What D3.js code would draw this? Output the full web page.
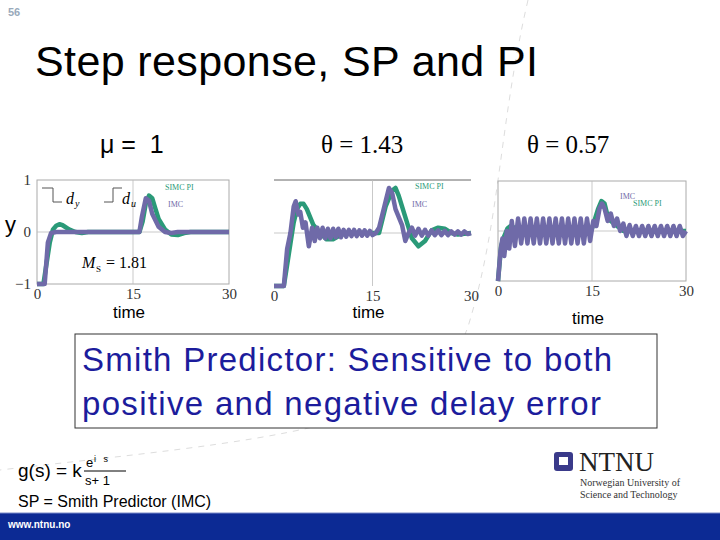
<!DOCTYPE html>
<meta charset="utf-8">
<style>
body { margin: 0; background: #fff; }
text { font-family: "Liberation Sans", Arial, sans-serif; }
.serif { font-family: "Liberation Serif", "DejaVu Serif", serif; }
.tick text { font-family: "Liberation Serif", serif; font-size: 15px; fill: #333; }
.frame { fill: none; stroke: #aaa; stroke-width: 1; }
.grid { stroke: #bbb; stroke-width: 0.8; }
.simc { fill: none; stroke: #2a9a78; stroke-width: 4.5; stroke-linejoin: round; }
.imc { fill: none; stroke: #6f6aa8; stroke-width: 4.5; stroke-linejoin: round; }
</style>
<svg width="720" height="540"></svg>
<script src="https://d3js.org/d3.v4.min.js"></script>
<script>
// panel 1: mu = 1
var p1Simc = [[0,-1],[1,-1],[1.5,-0.6],[2,-0.2],[2.5,0.05],[3,0.12],[3.5,0.15],[4,0.13],[5,0.05],[6,0],[7,-0.02],[8,0],[16,0],[16.5,0.2],[17,0.55],[17.5,0.7],[18,0.65],[18.5,0.45],[19,0.25],[20,0.05],[21,-0.05],[22,-0.06],[23,-0.02],[24,0],[30,0]];
var p1Imc = [[0,-1],[1.2,-1],[1.7,-0.2],[2.2,-0.02],[3,0],[16,0],[16.4,0.3],[17,0.65],[17.5,0.6],[18,0.35],[19,0.1],[20,0],[21,-0.02],[22,0],[30,0]];
// panel 2: theta = 1.43
var p2Simc = [[0,-1],[1.5,-1],[2,-0.6],[2.5,-0.2],[3,0.2],[3.5,0.45],[4,0.55],[4.5,0.55],[5,0.45],[6,0.15],[7,0],[8,-0.12],[9,-0.12],[10,-0.05],[11,0],[16,0],[17,0.5],[18,0.8],[18.5,0.85],[19,0.7],[20,0.3],[21,-0.1],[22,-0.25],[23,-0.15],[24,0.05],[25,0.1],[26,0.08],[27,0],[28,-0.03],[30,0]];
var p2Imc = [[0,-1],[1.5,-1],[2,-0.3],[2.5,0],[3,0.5],[3.3,0.6],[3.7,0.35],[4,0.4],[4.4,0.1],[4.8,0.2],[5.3,-0.25],[5.8,0.1],[6.2,-0.15],[6.6,0.1],[7,-0.1],[7.4,0.1],[7.8,-0.1],[8.2,0.08],[8.6,-0.1],[9,0.08],[9.4,-0.08],[9.8,0.08],[10.2,-0.08],[10.6,0.06],[11,-0.07],[11.4,0.06],[11.8,-0.06],[12.2,0.06],[12.6,-0.06],[13,0.05],[13.4,-0.05],[13.8,0.05],[14.2,-0.05],[14.6,0.04],[15,-0.04],[15.5,0],[16,0.1],[17,0.6],[17.5,0.85],[18,0.75],[18.5,0.45],[19,0.3],[19.5,0.15],[20,-0.15],[20.5,0],[21,0.1],[21.5,-0.05],[22,0.08],[22.5,-0.05],[23,0.06],[23.5,-0.05],[24,0.05],[24.5,-0.04],[25,0.05],[25.5,-0.04],[26,0.04],[26.5,-0.04],[27,0.03],[27.5,-0.03],[28,0.03],[28.5,-0.03],[29,0.03],[29.5,-0.02],[30,0]];
// panel 3: theta = 0.57
var p3Simc = [[0,-1],[0.5,-0.3],[1,-0.1],[1.5,0.05],[2,0.1],[3,0.05],[15,0.05],[15.5,0.25],[16,0.45],[16.5,0.6],[17,0.55],[17.5,0.3],[18,0.2],[19,0.1],[20,0],[30,0]];
var p3Imc = [[0,-1],[0.4,-0.4],[0.7,-0.15],[1,-0.5],[1.4,0],[1.8,-0.35],[2.2,0.2],[2.7,-0.3],[3.2,0.25],[3.7,-0.25],[4.2,0.25],[4.7,-0.25],[5.2,0.25],[5.7,-0.25],[6.2,0.25],[6.7,-0.25],[7.2,0.25],[7.7,-0.25],[8.2,0.25],[8.7,-0.25],[9.2,0.25],[9.7,-0.25],[10.2,0.25],[10.7,-0.25],[11.2,0.25],[11.7,-0.25],[12.2,0.25],[12.7,-0.25],[13.2,0.25],[13.7,-0.25],[14.2,0.25],[14.7,-0.2],[15.2,0.2],[15.7,0.1],[16.2,0.45],[16.6,0.55],[17,0.45],[17.5,0.2],[18,0.35],[18.5,0.1],[19,0.25],[19.5,0],[20,0.15],[20.5,-0.1],[21,0.12],[21.5,-0.1],[22,0.1],[22.5,-0.1],[23,0.1],[23.5,-0.1],[24,0.1],[24.5,-0.1],[25,0.1],[25.5,-0.1],[26,0.1],[26.5,-0.1],[27,0.1],[27.5,-0.1],[28,0.1],[28.5,-0.1],[29,0.1],[29.5,-0.1],[30,0]];
var xTicks = [0, 15, 30];
var yTicks = [-1, 0, 1];

var svg = d3.select("svg");

// background dashed arc
svg.append("path")
    .attr("d", "M528,0 C500,120 500,220 470,320 C440,430 260,440 0,470")
    .attr("fill", "none").attr("stroke", "#ddd").attr("stroke-dasharray", "6,6");

svg.append("text").attr("x", 8).attr("y", 16).style("font-size", "11px")
    .style("font-weight", "bold").attr("fill", "#9ab").text("56");
svg.append("text").attr("x", 35).attr("y", 76).style("font-size", "43px").attr("textLength", 503).text("Step response, SP and PI");

svg.append("text").attr("x", 100).attr("y", 153).style("font-size", "25px").attr("xml:space", "preserve").text("μ =  1");
svg.append("text").attr("class", "serif").attr("x", 321).attr("y", 153).style("font-size", "25px").text("θ = 1.43");
svg.append("text").attr("class", "serif").attr("x", 527).attr("y", 153).style("font-size", "25px").text("θ = 0.57");

var panels = [
  {x0: 37, x1: 229, y0: 180, y1: 284, simc: p1Simc, imc: p1Imc, yaxis: true},
  {x0: 274, x1: 471, y0: 180, y1: 286, simc: p2Simc, imc: p2Imc},
  {x0: 498, x1: 686, y0: 181, y1: 281, simc: p3Simc, imc: p3Imc}
];

panels.forEach(function(p, i) {
  var x = d3.scaleLinear().domain([0, 30]).range([p.x0, p.x1]);
  var y = d3.scaleLinear().domain([-1, 1]).range([p.y1, p.y0]);
  var g = svg.append("g");
  g.append("rect").attr("class", "frame").attr("x", p.x0).attr("y", p.y0)
      .attr("width", p.x1 - p.x0).attr("height", p.y1 - p.y0)
      .style("stroke-width", i == 1 ? 0 : 1);
  if (i == 1) g.append("line").attr("x1", p.x0).attr("x2", p.x1).attr("y1", p.y0).attr("y2", p.y0).attr("stroke", "#666");
  g.append("line").attr("class", "grid").attr("x1", p.x0).attr("x2", p.x1).attr("y1", y(0)).attr("y2", y(0));
  g.append("line").attr("class", "grid").attr("x1", x(15)).attr("x2", x(15)).attr("y1", p.y0).attr("y2", p.y1);
  var ax = g.append("g").attr("transform", "translate(0," + p.y1 + ")")
      .call(d3.axisBottom(x).tickValues(xTicks).tickSize(0).tickPadding(4));
  ax.select(".domain").remove();
  if (p.yaxis) {
    var ay = g.append("g").attr("transform", "translate(" + p.x0 + ",0)")
        .call(d3.axisLeft(y).tickValues(yTicks).tickSize(0).tickPadding(6).tickFormat(function(d) { return d < 0 ? "\u2212" + (-d) : d; }));
    ay.select(".domain").remove();
  }
  var line = d3.line().x(function(d) { return x(d[0]); }).y(function(d) { return y(d[1]); });
  g.append("path").datum(p.simc).attr("class", "simc").attr("d", line);
  g.append("path").datum(p.imc).attr("class", "imc").attr("d", line);
  svg.append("text").attr("x", (p.x0 + p.x1) / 2 - 4).attr("y", i == 2 ? 324 : 318)
      .attr("text-anchor", "middle").style("font-size", "17px").text("time");
});

// panel annotations
svg.append("text").attr("x", 5).attr("y", 232).style("font-size", "22px").text("y");
svg.append("path").attr("d", "M42,188 H53 V202 H62").attr("fill", "none").attr("stroke", "#555");
svg.append("text").attr("class", "serif").attr("x", 66).attr("y", 204).style("font-size", "16px").style("font-style", "italic").text("d");
svg.append("text").attr("class", "serif").attr("x", 75).attr("y", 207).style("font-size", "10px").style("font-style", "italic").text("y");
svg.append("path").attr("d", "M104,202 H113 V188 H122").attr("fill", "none").attr("stroke", "#555");
svg.append("text").attr("class", "serif").attr("x", 122).attr("y", 204).style("font-size", "16px").style("font-style", "italic").text("d");
svg.append("text").attr("class", "serif").attr("x", 131).attr("y", 207).style("font-size", "10px").style("font-style", "italic").text("u");
svg.append("text").attr("class", "serif").attr("x", 82).attr("y", 268).style("font-size", "16px").style("font-style", "italic").text("M");
svg.append("text").attr("class", "serif").attr("x", 96).attr("y", 272).style("font-size", "9px").text("S");
svg.append("text").attr("class", "serif").attr("x", 106).attr("y", 268).style("font-size", "16px").text("= 1.81");
function label(x, y, t, c) {
  svg.append("text").attr("class", "serif").attr("x", x).attr("y", y).style("font-size", "8px").attr("fill", c).text(t);
}
label(165, 190, "SIMC PI", "#2a9a78"); label(168, 207, "IMC", "#6f6aa8");
label(415, 189, "SIMC PI", "#2a9a78"); label(412, 207, "IMC", "#6f6aa8");
label(620, 199, "IMC", "#6f6aa8"); label(633, 206, "SIMC PI", "#2a9a78");

// text box
svg.append("rect").attr("x", 75).attr("y", 334).attr("width", 582).attr("height", 94)
    .attr("fill", "#fff").attr("stroke", "#333");
svg.append("text").attr("x", 82).attr("y", 371).style("font-size", "33px").attr("fill", "#1c1c9c").attr("textLength", 530).text("Smith Predictor: Sensitive to both");
svg.append("text").attr("x", 82).attr("y", 415).style("font-size", "33px").attr("fill", "#1c1c9c").attr("textLength", 519).text("positive and negative delay error");

// formula
svg.append("text").attr("x", 18).attr("y", 477).style("font-size", "19px").text("g(s) =  k");
svg.append("text").attr("x", 86).attr("y", 467).style("font-size", "13px").text("e");
svg.append("text").attr("x", 94).attr("y", 462).style("font-size", "9px").attr("xml:space", "preserve").text("i   s");
svg.append("line").attr("x1", 84).attr("x2", 126).attr("y1", 471).attr("y2", 471).attr("stroke", "#000");
svg.append("text").attr("x", 85).attr("y", 485).style("font-size", "13px").text("s+ 1");
svg.append("text").attr("x", 18).attr("y", 507).style("font-size", "16px").text("SP = Smith Predictor (IMC)");

// NTNU logo
svg.append("rect").attr("x", 554).attr("y", 452).attr("width", 19).attr("height", 19).attr("rx", 3).attr("fill", "#3a3a8a");
svg.append("rect").attr("x", 559).attr("y", 457).attr("width", 9).attr("height", 8).attr("fill", "#fff");
svg.append("text").attr("class", "serif").attr("x", 579).attr("y", 471).style("font-size", "27px").attr("fill", "#222").text("NTNU");
svg.append("text").attr("class", "serif").attr("x", 580).attr("y", 486).style("font-size", "10px").attr("fill", "#333").text("Norwegian University of");
svg.append("text").attr("class", "serif").attr("x", 580).attr("y", 498).style("font-size", "10px").attr("fill", "#333").text("Science and Technology");

// footer bar
svg.append("rect").attr("x", 0).attr("y", 513).attr("width", 720).attr("height", 27).attr("fill", "#0c2a94");
svg.append("line").attr("x1", 0).attr("x2", 720).attr("y1", 513).attr("y2", 513).attr("stroke", "#7a8ac8");
svg.append("text").attr("x", 8).attr("y", 528).style("font-size", "10px").style("font-weight", "bold").attr("fill", "#fff").text("www.ntnu.no");
</script>
